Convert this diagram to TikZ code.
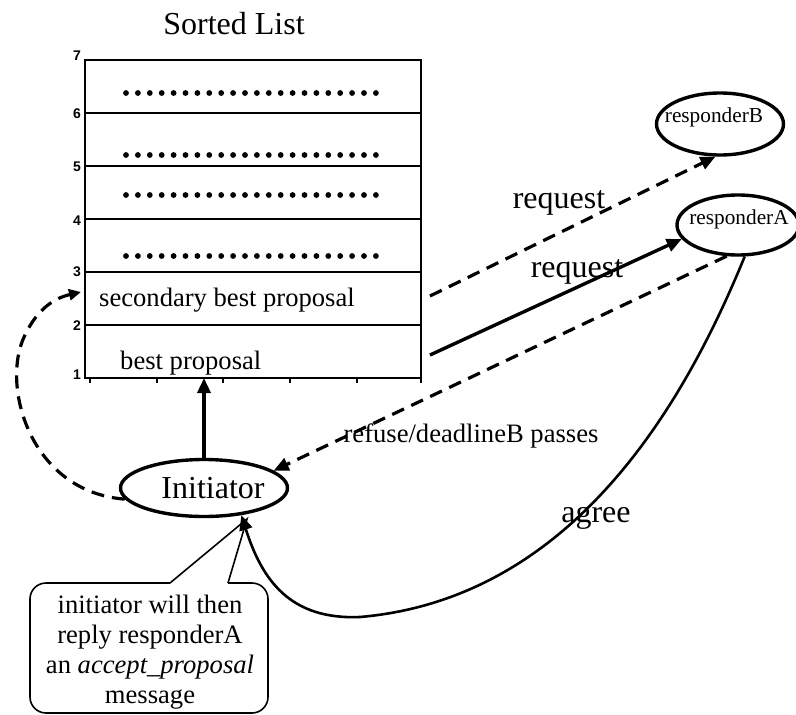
\documentclass[tikz,border=0pt]{standalone}
\usepackage{fontspec}
\setmainfont{Liberation Serif}
\newfontfamily\axisfont{Liberation Sans}
\usetikzlibrary{arrows.meta,shapes.geometric}
\begin{document}
\begin{tikzpicture}[x=1pt,y=-1pt,
  agent/.style={draw, ellipse, line width=3.4pt, inner sep=0pt},
  dashline/.style={line width=3.2pt, dash pattern=on 13pt off 8pt},
  solidline/.style={line width=3.4pt},
  tip/.style={-{Triangle[length=15pt,width=13pt]}},
  smalltip/.style={-{Triangle[length=12pt,width=11pt]}},
  big/.style={font=\fontsize{32}{36}\selectfont, inner sep=0pt},
  mid/.style={font=\fontsize{26.6}{30}\selectfont, inner sep=0pt},
  small/.style={font=\fontsize{21.3}{24}\selectfont, inner sep=0pt},
  axis/.style={font=\axisfont\bfseries\fontsize{14}{16}\selectfont, inner sep=0pt, anchor=east},
  dotrow/.style={fill=black},
  rule/.style={line width=1.6pt}
]
\useasboundingbox (0,0) rectangle (796,715);

% title
\node[big] (title) at (234,24) {Sorted List};

% list box
\node[draw, rule, minimum width=336pt, minimum height=318pt, inner sep=0pt] (list) at (253,219) {};
\foreach \yy in {113,166,219,272,325} {
  \draw[rule] (85,\yy) -- (421,\yy);
}
\foreach \xx in {90,157,223,290,357,421} {
  \draw[line width=1.2pt] (\xx,378) -- (\xx,383);
}
% axis labels
\foreach \yy/\lab in {56/7,114/6,167/5,221/4,272/3,326/2,375/1} {
  \node[axis] (ax\lab) at (81,\yy) {\lab};
}
% dotted rows
\foreach \yy in {93,155,195,256} {
  \foreach \i in {0,...,21} {
    \fill[dotrow] (126+\i*11.9,\yy) circle (2.9pt);
  }
}
\node[mid, anchor=west] (sbp) at (99,300) {secondary best proposal};
\node[mid, anchor=west] (bp) at (120,363) {best proposal};

% agents
\node[agent, minimum width=167pt, minimum height=57pt] (init) at (204,488) {};
\node[big] (initlbl) at (213,488) {Initiator};
\node[agent, minimum width=127pt, minimum height=62pt] (rB) at (720,124) {};
\node[small] (rBlbl) at (714,117) {responderB};
\node[agent, minimum width=122pt, minimum height=60pt] (rA) at (738,225) {};
\node[small] (rAlbl) at (739,219) {responderA};

% connector ends at the list
\coordinate (sbpout) at (430,296);
\coordinate (bpout) at (430,355);
\coordinate (sbpin) at (81,292);
\coordinate (listbottom) at (204,378);

% initiator -> list
\draw[solidline, tip] (init.north) -- (listbottom);

% requests
\draw[dashline, tip] (sbpout) -- (rB.262);
\draw[solidline, tip] (bpout) -- (rA.194);
\node[big] (req1) at (559,203) {request};
\node[big] (req2) at (577,272) {request};

% refuse
\draw[dashline, tip] (rA.250) -- (init.14);
\node[mid] (reflbl) at (471,436) {refuse/deadlineB passes};

% agree
\draw[line width=2.6pt, tip] (rA.-78) .. controls (690,390) and (580,598) .. (360,617)
   .. controls (290,620) and (262,580) .. (init.-36);
\node[big] (agreelbl) at (596,518) {agree};

% loop back to secondary best
\draw[dashline, smalltip] (init.188) .. controls (30,492) and (0,385) .. (25,335)
   .. controls (38,308) and (55,298) .. (sbpin);

% callout
\draw[line width=1.6pt, rounded corners=16pt] (170,583) -- (30,583) -- (30,713) -- (268,713) -- (268,583) -- (228,583);
\draw[line width=1.6pt] (170,583) -- (247,519) -- (228,583);
\node[mid, align=center, anchor=north] (note) at (150,595)
  {initiator will then\\reply responderA\\an \textit{accept\_proposal}\\message};
\end{tikzpicture}
\end{document}
